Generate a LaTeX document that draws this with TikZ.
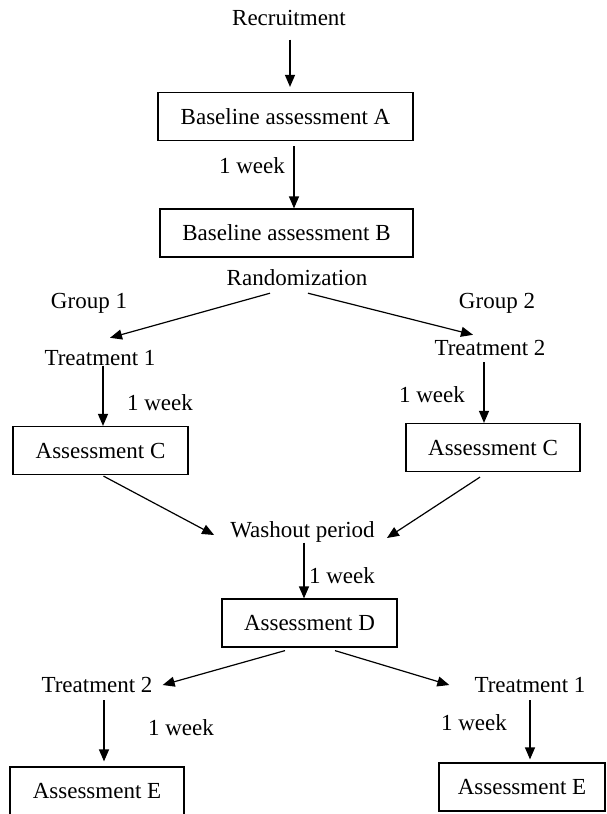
\documentclass[tikz,border=0pt]{standalone}
\usepackage{fontspec}
\setmainfont{Liberation Serif}
\usetikzlibrary{arrows.meta,calc}
\tikzset{
	box/.style={draw, line width=1.2pt, minimum height=48pt, inner sep=0pt},
	txt/.style={inner sep=0pt, text height=16pt, text depth=5pt},
	arr/.style={line width=1.2pt, -{Triangle[length=12pt,width=10pt]}}
}

\begin{document}
\begin{tikzpicture}[x=1pt, y=-1pt, font=\fontsize{23}{27}\selectfont]
			%%%%% START %%%%%
			\useasboundingbox (0,0) rectangle (607,814);
			
			\node[txt] (rec) at (289, 20) {Recruitment};
			\node[box, minimum width=255pt] (basea) at (285.5, 116.5) {Baseline assessment A};
			\node[box, minimum width=253pt] (baseb) at (286.5, 233) {Baseline assessment B};
			\node[txt] (wk1) at (252, 168) {1 week};
			
			\node[txt] (rand) at (297, 280) {Randomization};
			\node[txt] (grpa) at (89, 303) {Group 1};
			\node[txt] (grpb) at (497, 303) {Group 2};
			
			\node[txt] (trta) at (100, 360) {Treatment 1};
			\node[txt] (wk2) at (160, 405) {1 week};
			\node[box, minimum width=175pt] (assca) at (100.5, 450.5) {Assessment C};
			
			\node[txt] (trtb) at (490, 350) {Treatment 2};
			\node[txt] (wk3) at (432, 397) {1 week};
			\node[box, minimum width=174pt] (asscb) at (493, 447.5) {Assessment C};
			
			\node[txt] (wash) at (302.5, 532) {Washout period};
			\node[txt] (wk4) at (342, 578) {1 week};
			\node[box, minimum width=175pt] (assd) at (309.5, 623) {Assessment D};
			
			\node[txt] (trtc) at (97, 687) {Treatment 2};
			\node[txt] (wk5) at (181, 730) {1 week};
			\node[box, minimum width=174pt] (assea) at (97, 791) {Assessment E};
			
			\node[txt] (trtd) at (530, 687) {Treatment 1};
			\node[txt] (wk6) at (474, 725) {1 week};
			\node[box, minimum width=166pt] (asseb) at (522, 787) {Assessment E};
			
			% top column
			\draw[arr, shorten <=9pt, shorten >=5pt] ($(rec.south)+(1,0)$) -- ($(basea.north)+(4.5,0)$);
			\draw[arr, shorten <=5pt] ($(basea.south)+(8.5,0)$) -- ($(baseb.north)+(7.5,0)$);
			
			% randomization
			\draw[arr] ($(rand.south)+(-27,2.5)$) -- ($(trta.north)+(10,-11.5)$);
			\draw[arr] ($(rand.south)+(11,2.5)$) -- ($(trtb.north)+(-17,-4.5)$);
			\draw[arr] ($(trta.south)+(3,-5)$) -- ($(assca.north)+(2.5,0)$);
			\draw[arr] ($(trtb.south)+(-6,1.5)$) -- ($(asscb.north)+(-9,0)$);
			
			% washout
			\draw[arr] ($(assca.south)+(3,1)$) -- ($(wash.west)+(-16,3)$);
			\draw[arr] ($(asscb.south)+(-13,5)$) -- ($(wash.east)+(12,6)$);
			\draw[arr] ($(wash.south)+(1.5,0)$) -- ($(assd.north)+(-5.5,0)$);
			
			% crossover
			\draw[arr] ($(assd.south)+(-24.5,3)$) -- ($(trtc.east)+(10,-2)$);
			\draw[arr] ($(assd.south)+(25.5,3)$) -- ($(trtd.west)+(-25,-2)$);
			\draw[arr, shorten >=5pt] ($(trtc.south)+(7,2.5)$) -- ($(assea.north)+(7,0)$);
			\draw[arr, shorten >=3pt] ($(trtd.south)+(0,2.5)$) -- ($(asseb.north)+(8,0)$);
			
			%%%%% END %%%%%
\end{tikzpicture}
\end{document}
